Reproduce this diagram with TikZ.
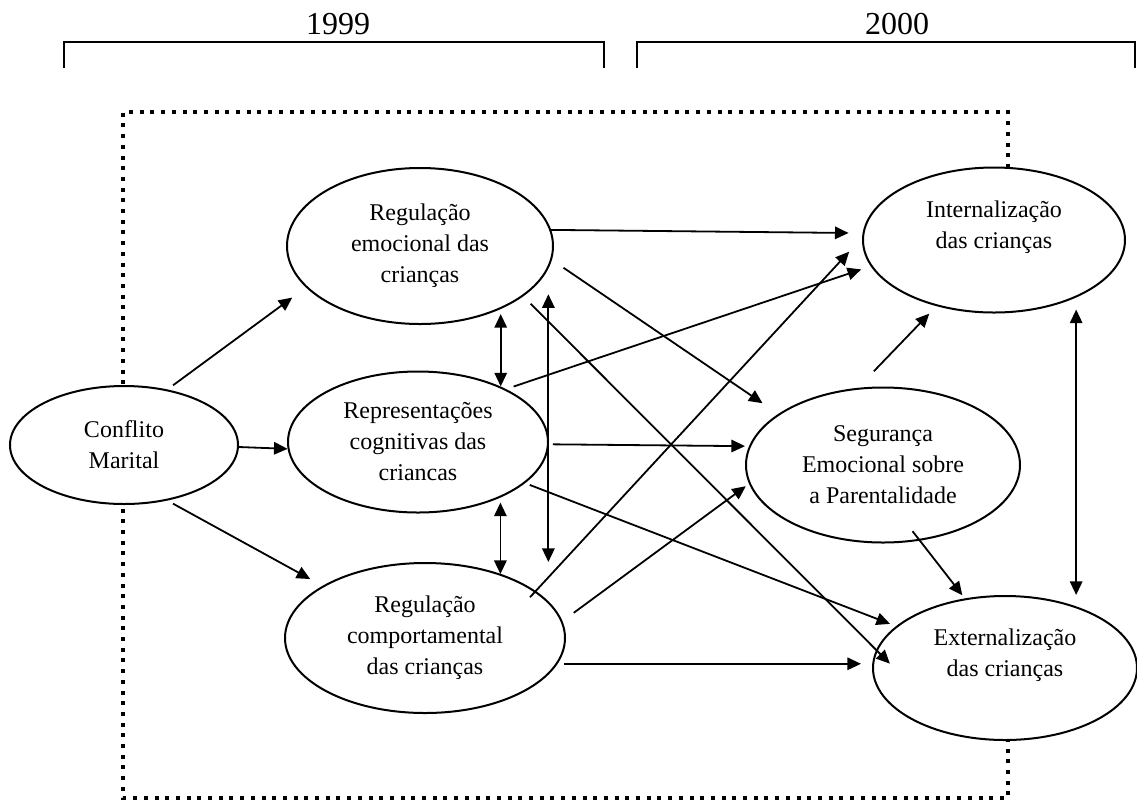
\documentclass[tikz,border=0pt]{standalone}
\usepackage{fontspec}
\setmainfont{Liberation Serif}
\usetikzlibrary{shapes.geometric,arrows.meta}
\tikzset{%
	construct/.style args={#1 and #2}{ellipse,draw,fill=white,line width=1pt,inner sep=0pt,%
	align=center,font=\fontsize{12}{15.5}\selectfont,minimum width=#1,minimum height=#2}
}

\begin{document}
\begin{tikzpicture}[x=0.5pt,y=-0.5pt,line width=0.9pt,>={Triangle[length=6.8pt,width=6.2pt]},
		year/.style={font=\fontsize{16}{19}\selectfont,inner sep=0pt},
		frame/.style={line width=2pt,dash pattern=on 2pt off 3.35pt}]
				\useasboundingbox (0,0) rectangle (1137,800);
				\node [year] (y1999) at (338,24) {1999};
				\node [year] (y2000) at (897,24) {2000};
				\draw [line width=0.8pt] (64,68) -- (64,42) -- (604,42) -- (604,68);
				\draw [line width=0.8pt] (637,68) -- (637,42) -- (1135,42) -- (1135,68);
				\draw [frame] (1008,200) -- (1008,112) -- (123,112) -- (123,798) -- (1008,798) -- (1008,700);
				\node [construct=114pt and 59pt] (conf) at (124,445) {Conflito\\Marital};
				\node [construct=133pt and 78pt] (emoc) at (420,246) {Regulação\\emocional das\\crianças};
				\node [construct=130pt and 70.5pt] (repr) at (418,442) {Representações\\cognitivas das\\criancas};
				\node [construct=140pt and 75pt] (comp) at (425,638) {Regulação\\comportamental\\das crianças};
				\node [construct=131pt and 72.5pt] (intern) at (994,240) {Internalização\\das crianças\\\mbox{}};
				\node [construct=137pt and 77.5pt] (segur) at (883,465) {Segurança\\Emocional sobre\\a Parentalidade};
				\node [construct=132pt and 72pt] (extern) at (1005,668) {Externalização\\das crianças\\\mbox{}};
				\draw [->,shorten <=3.5pt,shorten >=8.5pt] (conf.52) -- (emoc.-160);
				\draw [->] (conf.-1) -- (repr.-177);
				\draw [->,shorten <=3.2pt,shorten >=7pt] (conf.-52) -- (comp.153.5);
				\draw [->,shorten >=7pt] (emoc.7) -- (intern.177);
				\draw [->,shorten <=7pt,shorten >=9.5pt] (emoc.-6) -- (segur.154);
				\draw [->,shorten <=5.2pt,shorten >=-9.7pt] (emoc.-26) -- (extern.172.5);
				\draw [<->,shorten <=2.5pt] (emoc.-38) -- (emoc.-38 |- repr.34);
				\draw [<->,shorten <=12.8pt] (emoc.-10) -- (emoc.-10 |- comp.north);
				\draw [->,shorten <=4pt,shorten >=5pt] (repr.31) -- (intern.-168);
				\draw [->,shorten <=2pt,shorten >=2pt] (repr.-1) -- (segur.172);
				\draw [->,shorten <=2.5pt,shorten >=3.2pt] (repr.-21.4) -- (extern.159.5);
				\draw [<->,shorten <=2.5pt] (repr.-34) -- (repr.-34 |- comp.40);
				\draw [->,shorten <=-4.2pt,shorten >=9.5pt] (comp.23.5) -- (intern.179);
				\draw [->,shorten <=7pt,shorten >=2pt] (comp.7) -- (segur.-172);
				\draw [->,shorten <=3.3pt,shorten >=5.5pt] (comp.-11) -- (comp.-11 -| extern.west);
				\draw [->,shorten <=11.5pt,shorten >=5.2pt] (segur.108) -- (intern.-131);
				\draw [->,shorten <=-6pt,shorten >=2pt] (segur.-64) -- (extern.120);
				\draw [<->,shorten <=6pt] (intern.-35) -- (intern.-35 |- extern.north);
			\end{tikzpicture}
\end{document}
